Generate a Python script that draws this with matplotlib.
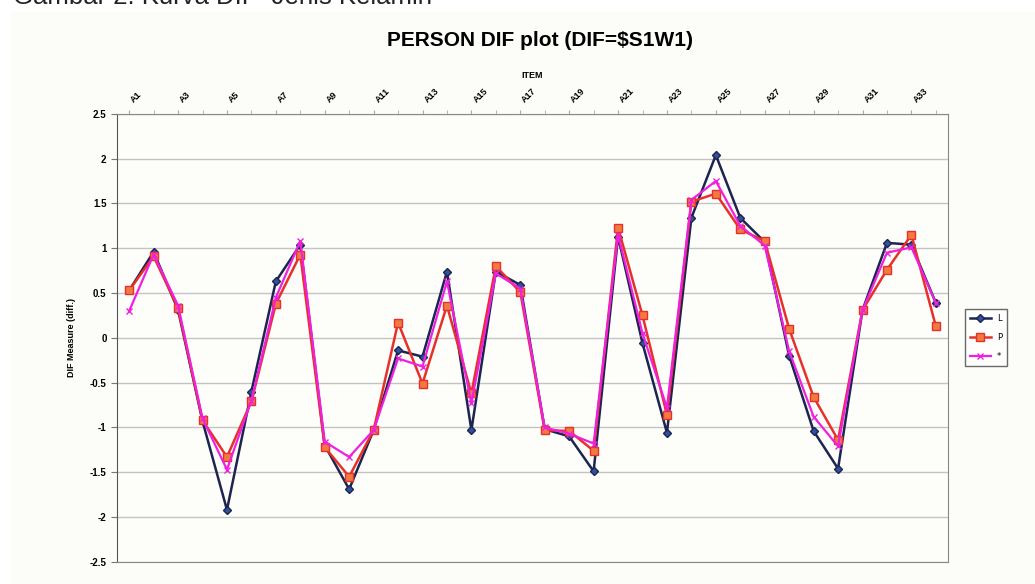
import matplotlib.pyplot as plt
from matplotlib.patches import Rectangle

# item ke-1 .. ke-34
items = list(range(1, 35))
tick_items = list(range(1, 34, 2))
tick_labels = ['A%d' % i for i in tick_items]

dif_L = [0.53, 0.96, 0.31, -0.93, -1.92, -0.60, 0.63, 1.04, -1.20, -1.69,
         -1.03, -0.14, -0.21, 0.74, -1.03, 0.74, 0.59, -1.02, -1.10, -1.49,
         1.13, -0.06, -1.06, 1.34, 2.04, 1.34, 1.07, -0.20, -1.04, -1.46,
         0.31, 1.06, 1.04, 0.39]
dif_P = [0.53, 0.91, 0.33, -0.92, -1.33, -0.71, 0.38, 0.93, -1.22, -1.55,
         -1.03, 0.17, -0.51, 0.36, -0.62, 0.80, 0.51, -1.03, -1.04, -1.26,
         1.23, 0.25, -0.86, 1.52, 1.61, 1.21, 1.08, 0.10, -0.66, -1.14,
         0.31, 0.76, 1.15, 0.13]
dif_S = [0.30, 0.93, 0.36, -0.90, -1.47, -0.70, 0.45, 1.08, -1.16, -1.33,
         -1.03, -0.23, -0.32, 0.63, -0.73, 0.72, 0.55, -1.00, -1.07, -1.18,
         1.15, 0.05, -0.78, 1.54, 1.75, 1.25, 1.03, -0.15, -0.88, -1.21,
         0.31, 0.95, 1.01, 0.39]

yticks = [2.5, 2, 1.5, 1, 0.5, 0, -0.5, -1, -1.5, -2, -2.5]

fig = plt.figure(figsize=(10.35, 5.84), dpi=100)
fig.patch.set_facecolor('white')
# latar belakang gambar chart (sedikit krem)
fig.patches.append(Rectangle((10 / 1035, 0), 1, 1 - 12 / 584,
                             transform=fig.transFigure, facecolor='#fcfcf8',
                             edgecolor='none', zorder=-10))
ax = fig.add_axes([0.113, 0.038, 0.803, 0.767])
ax.set_facecolor('#fdfdf9')

# teks judul gambar yang terpotong di atas
fig.text(0.013, 0.993, 'Gambar 2. Kurva DIF  Jenis Kelamin', fontsize=18.5,
         family='Liberation Sans', color='#222222', va='baseline', ha='left')

ax.plot(items, dif_L, color='#1c2450', lw=1.8, marker='D', ms=4,
        mfc='#3050a0', mec='#1c2450', label='L', zorder=3)
ax.plot(items, dif_P, color='#e8302a', lw=1.8, marker='s', ms=6,
        mfc='#f07a40', mec='#e8302a', label='P', zorder=4)
ax.plot(items, dif_S, color='#f020e0', lw=1.6, marker='x', ms=5,
        mec='#f020e0', label='*', zorder=5)

ax.set_xlim(0.5, 34.5)
ax.set_ylim(-2.5, 2.5)
ax.set_yticks(yticks)
ax.set_yticklabels([('%g' % v) for v in yticks], fontsize=7, fontweight='bold',
                   family='Liberation Sans')
ax.grid(axis='y', color='#c4c4c4', lw=1)
ax.set_axisbelow(True)

ax.xaxis.tick_top()
ax.set_xticks(tick_items)
ax.set_xticklabels(tick_labels, rotation=45, fontsize=6.5, fontweight='bold',
                   family='Liberation Sans', ha='left', va='bottom')
ax.set_xticks(items, minor=True)
ax.tick_params(axis='x', which='both', length=3, color='#aaaaaa', pad=4)
ax.tick_params(axis='y', length=4, color='#777777')
ax.xaxis.set_label_position('top')
ax.set_xlabel('ITEM', fontsize=6.5, fontweight='bold', family='Liberation Sans',
              labelpad=6)
ax.set_ylabel('DIF Measure (diff.)', fontsize=6.5, fontweight='bold',
              family='Liberation Sans', labelpad=10)

for side in ['left', 'right', 'top', 'bottom']:
    ax.spines[side].set_color('#888888')
ax.spines['left'].set_color('#555555')

fig.text(0.522, 0.93, r'PERSON DIF plot (DIF=\$S1W1)', fontsize=15,
         fontweight='bold', family='Liberation Sans', ha='center', va='center')

leg = ax.legend(loc='center left', bbox_to_anchor=(1.015, 0.5), fontsize=6,
                frameon=True, fancybox=False, edgecolor='#444444',
                handlelength=2.5, borderpad=0.6, labelspacing=1.2)
leg.get_frame().set_linewidth(1)

fig.savefig('out.png', dpi=100, facecolor=fig.get_facecolor())
